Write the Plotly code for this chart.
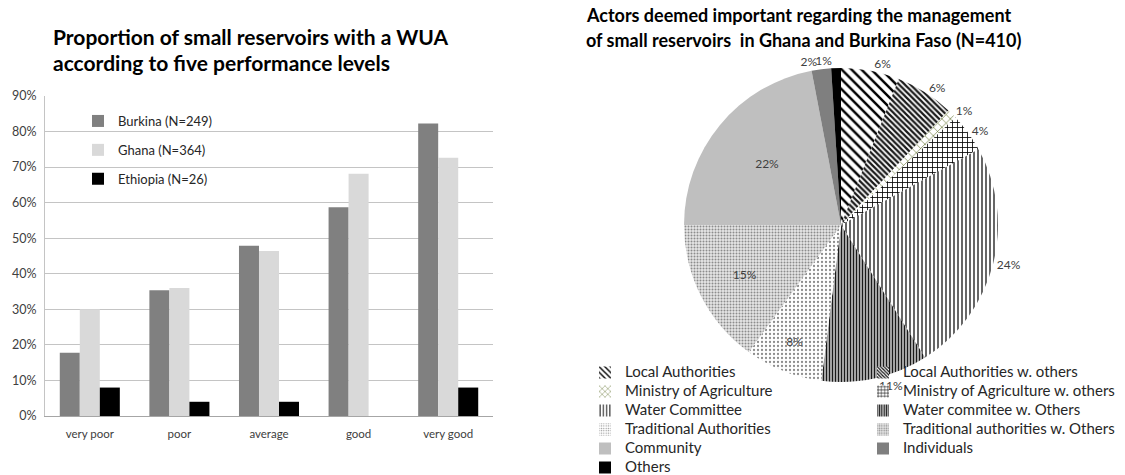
import plotly.graph_objects as go

W, H = 1125, 475
FONT = "Lato, Carlito, Calibri, sans-serif"

# ---------------- data ----------------
categories = ["very poor", "poor", "average", "good", "very good"]
bar_series = ["Burkina (N=249)", "Ghana (N=364)", "Ethiopia (N=26)"]
burkina = [17.8, 35.4, 47.9, 58.7, 82.3]
ghana = [30.0, 36.0, 46.4, 68.1, 72.6]
ethiopia = [8.0, 4.0, 4.0, 0.0, 8.0]
y_ticks = [0, 10, 20, 30, 40, 50, 60, 70, 80, 90]
y_ticktext = ["%d%%" % v for v in y_ticks]

actors = ["Local Authorities", "Local Authorities w. others",
          "Ministry of Agriculture", "Ministry of Agriculture w. others",
          "Water Committee", "Water commitee w. Others",
          "Traditional Authorities", "Traditional authorities w. Others",
          "Community", "Individuals", "Others"]
shares = [6, 6, 1, 4, 24, 11, 8, 15, 22, 2, 1]

bar_title = ["Proportion of small reservoirs with a WUA",
             "according to five performance levels"]
pie_title = ["Actors deemed important regarding the management",
             "of small reservoirs&nbsp; in Ghana and Burkina Faso (N=410)"]

# ---------------- styles ----------------
bar_colors = ["#808080", "#d9d9d9", "#000000"]
pat_shape = ["\\", "\\", "x", "+", "|", "|", ".", ".", "", "", ""]
pat_fg = ["#000000", "#1a1a1a", "#5f6f2a", "#000000", "#000000", "#1a1a1a",
          "#8c8c8c", "#8c8c8c", "#bfbfbf", "#7f7f7f", "#000000"]
pat_bg = ["#ffffff", "#ffffff", "#ffffff", "#ffffff", "#ffffff", "#ffffff",
          "#ffffff", "#e6e6e6", "#bfbfbf", "#7f7f7f", "#000000"]
pat_size = [7, 4, 6, 5, 4, 3, 4, 3, 8, 8, 8]
pat_sol = [0.35, 0.55, 0.2, 0.3, 0.3, 0.6, 0.25, 0.35, 0.3, 0.3, 0.3]
leg_size = [5, 3, 5, 4, 4, 3, 3, 3, 8, 8, 8]
# label placement: the last slice's label is drawn by a second, transparent
# pie layer so that it sits beside (not above) its neighbour's label
text_pos = ["outside", "outside", "outside", "outside", "outside", "outside",
            "inside", "inside", "inside", "outside", "none"]
text_pos_top = ["none"] * 10 + ["outside"]


def px(x):
    return x / W


def py(y):
    return 1 - y / H


fig = go.Figure()

# ---------------- bar chart ----------------
for name, vals, col in zip(bar_series, [burkina, ghana, ethiopia], bar_colors):
    fig.add_trace(go.Bar(
        x=categories, y=vals, name=name, marker=dict(color=col, line=dict(width=0)),
        legend="legend2", legendgroup=name, xaxis="x", yaxis="y",
    ))

# ---------------- pie chart ----------------
pie_domain = dict(x=[px(684), px(998)], y=[py(382), py(68)])
pie_font = dict(family=FONT, size=12, color="#404040")
fig.add_trace(go.Pie(
    labels=actors, values=shares, sort=False, direction="clockwise", rotation=0,
    domain=pie_domain,
    marker=dict(colors=pat_bg, line=dict(width=0),
                pattern=dict(shape=pat_shape, fgcolor=pat_fg, bgcolor=pat_bg,
                             size=pat_size, solidity=pat_sol, fillmode="replace")),
    texttemplate="%{percent:.0%}", textposition=text_pos,
    insidetextorientation="horizontal", textfont=pie_font,
    showlegend=False, automargin=False,
))
fig.add_trace(go.Pie(
    labels=actors, values=shares, sort=False, direction="clockwise", rotation=0,
    domain=pie_domain,
    marker=dict(colors=["rgba(0,0,0,0)"] * len(actors), line=dict(width=0)),
    texttemplate="%{percent:.0%}", textposition=text_pos_top, textfont=pie_font,
    showlegend=False, automargin=False, hoverinfo="skip",
))

# legend entries for the pie (two columns, same order as the slices)
for i, lab in enumerate(actors):
    fig.add_trace(go.Bar(
        x=[None], y=[None], name='<span style="font-size:15px">%s</span>' % lab,
        xaxis="x2", yaxis="y2",
        legend="legend" if i % 2 == 0 else "legend3",
        marker=dict(color=pat_bg[i], line=dict(width=0),
                    pattern=dict(shape=pat_shape[i], fgcolor=pat_fg[i], bgcolor=pat_bg[i],
                                 size=leg_size[i], solidity=pat_sol[i],
                                 fillmode="replace")),
    ))

annotations = []
for i, t in enumerate(bar_title):
    annotations.append(dict(text="<b>%s</b>" % t, x=px(51), y=py(37 + 25 * i),
                            xref="paper", yref="paper", xanchor="left", yanchor="middle",
                            showarrow=False, font=dict(family=FONT, size=21, color="#000000")))
for i, t in enumerate(pie_title):
    annotations.append(dict(text="<b>%s</b>" % t, x=px(584), y=py(15 + 25 * i),
                            xref="paper", yref="paper", xanchor="left", yanchor="middle",
                            showarrow=False, font=dict(family=FONT, size=18, color="#000000")))

leg_font = dict(family=FONT, size=12, color="#262626")
fig.update_layout(
    width=W, height=H, margin=dict(l=0, r=0, t=0, b=0, autoexpand=False),
    paper_bgcolor="white", plot_bgcolor="white",
    barmode="group", bargap=0.33, bargroupgap=0,
    font=dict(family=FONT, size=12, color="#595959"),
    xaxis=dict(domain=[px(45), px(493)], showline=True, linecolor="#a6a6a6", linewidth=1,
               ticks="", showgrid=False, automargin=False,
               tickfont=dict(family=FONT, size=11.5, color="#404040"),
               ticklabelstandoff=7, fixedrange=True),
    yaxis=dict(domain=[py(416), py(96)], range=[0, 90], tickvals=y_ticks, ticktext=y_ticktext,
               showgrid=True, gridcolor="#c4c4c4", gridwidth=1, showline=True,
               linecolor="#c4c4c4", zeroline=False, ticks="", ticklabelstandoff=5,
               automargin=False,
               tickfont=dict(family=FONT, size=12.5, color="#404040"), fixedrange=True),
    xaxis2=dict(domain=[0.99, 1.0], visible=False, anchor="y2", automargin=False),
    yaxis2=dict(domain=[0.99, 1.0], visible=False, anchor="x2", automargin=False),
    legend=dict(x=px(585), y=py(358), xanchor="left", yanchor="top", orientation="v",
                bgcolor="rgba(0,0,0,0)", font=leg_font, traceorder="normal"),
    legend3=dict(x=px(863), y=py(358), xanchor="left", yanchor="top", orientation="v",
                 bgcolor="rgba(0,0,0,0)", font=leg_font, traceorder="normal"),
    legend2=dict(x=px(78), y=py(106), xanchor="left", yanchor="top", orientation="v",
                 bgcolor="rgba(0,0,0,0)", font=dict(family=FONT, size=13, color="#262626"),
                 traceorder="grouped", tracegroupgap=9),
    annotations=annotations,
)

fig.write_html("out.html", config={"displayModeBar": False},
               post_script="document.body.style.margin='0px';")
